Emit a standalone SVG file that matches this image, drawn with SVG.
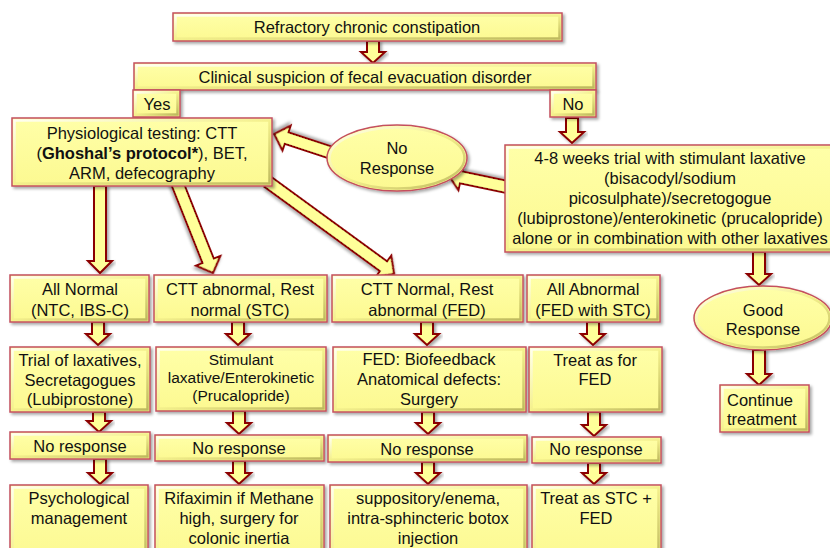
<svg xmlns="http://www.w3.org/2000/svg" width="830" height="548" viewBox="0 0 830 548">
<defs>
<filter id="sh" x="-10%" y="-10%" width="125%" height="140%"><feDropShadow dx="2" dy="2" stdDeviation="1.5" flood-color="#000" flood-opacity="0.35"/></filter>
<linearGradient id="bv" x1="0" y1="0" x2="1" y2="1"><stop offset="0" stop-color="#FFFFF0"/><stop offset="0.5" stop-color="#F4F08C"/><stop offset="1" stop-color="#BEB95E"/></linearGradient>
<linearGradient id="fl" x1="0" y1="0" x2="0" y2="1"><stop offset="0" stop-color="#FFFFA8"/><stop offset="1" stop-color="#FCF991"/></linearGradient>
</defs>
<style>
.box{fill:url(#fl);stroke:#C4505E;stroke-width:1.5;filter:url(#sh)}
.bev{fill:none;stroke:url(#bv);stroke-width:2.5}
.arr{fill:#FFFF99;stroke:#8B0000;stroke-width:2;stroke-linejoin:miter;filter:url(#sh)}
text{font-family:"Liberation Sans",Arial,sans-serif;font-size:16.5px;fill:#111;text-anchor:middle}
.sm{font-size:15.5px}
.lt{text-anchor:start}
.b{font-weight:bold}
</style>
<g id="connectors">
<path class="arr" d="M367,41 L379,41 L379,52 L385,52 L373,63 L361,52 L367,52 Z"/>
<path class="arr" d="M566,118 L578,118 L578,132 L584,132 L572,143 L560,132 L566,132 Z"/>
<path class="arr" d="M94,186 L106,186 L106,261 L112,261 L100,273 L88,261 L94,261 Z"/>
<path class="arr" transform="translate(176,180) rotate(68.3)" d="M0,-6 L87,-6 L87,-13 L100,0 L87,13 L87,6 L0,6 Z"/>
<path class="arr" transform="translate(268,182) rotate(36.1)" d="M0,-6 L143,-6 L143,-13 L156,0 L143,13 L143,6 L0,6 Z"/>
<path class="arr" transform="translate(512,188) rotate(191.8)" d="M0,-6 L52,-6 L52,-13 L65,0 L52,13 L52,6 L0,6 Z"/>
<path class="arr" transform="translate(335,154) rotate(198.2)" d="M0,-6 L51,-6 L51,-13 L64,0 L51,13 L51,6 L0,6 Z"/>
<path class="arr" d="M753,252 L765,252 L765,274 L771,274 L759,285 L747,274 L753,274 Z"/>
<path class="arr" d="M753,350 L765,350 L765,374 L771,374 L759,385 L747,374 L753,374 Z"/>
<path class="arr" d="M92,322 L104,322 L104,334 L110,334 L98,345 L86,334 L92,334 Z"/>
<path class="arr" d="M232,322 L244,322 L244,334 L250,334 L238,345 L226,334 L232,334 Z"/>
<path class="arr" d="M421,322 L433,322 L433,334 L439,334 L427,345 L415,334 L421,334 Z"/>
<path class="arr" d="M587,322 L599,322 L599,334 L605,334 L593,345 L581,334 L587,334 Z"/>
<path class="arr" d="M93,412 L105,412 L105,421 L111,421 L99,432 L87,421 L93,421 Z"/>
<path class="arr" d="M233,411 L245,411 L245,423 L251,423 L239,434 L227,423 L233,423 Z"/>
<path class="arr" d="M422,412 L434,412 L434,423 L440,423 L428,434 L416,423 L422,423 Z"/>
<path class="arr" d="M588,412 L600,412 L600,425 L606,425 L594,436 L582,425 L588,425 Z"/>
<path class="arr" d="M94,459 L106,459 L106,473 L112,473 L100,484 L88,473 L94,473 Z"/>
<path class="arr" d="M233,461 L245,461 L245,473 L251,473 L239,484 L227,473 L233,473 Z"/>
<path class="arr" d="M422,462 L434,462 L434,473 L440,473 L428,484 L416,473 L422,473 Z"/>
<path class="arr" d="M588,463 L600,463 L600,473 L606,473 L594,484 L582,473 L588,473 Z"/>
</g>
<g id="n-start"><rect class="box" x="173" y="13" width="389" height="28"/><rect class="bev" x="175.5" y="15.5" width="384" height="23"/><text x="367" y="33">Refractory chronic constipation</text></g>
<g id="n-suspicion"><rect class="box" x="134" y="63" width="462" height="27"/><rect class="bev" x="136.5" y="65.5" width="457" height="22"/><text x="365" y="83">Clinical suspicion of fecal evacuation disorder</text></g>
<g id="n-yes"><rect class="box" x="133" y="90" width="47" height="27"/><rect class="bev" x="135.5" y="92.5" width="42" height="22"/><text x="157" y="110">Yes</text></g>
<g id="n-no"><rect class="box" x="550" y="90" width="46" height="27"/><rect class="bev" x="552.5" y="92.5" width="41" height="22"/><text x="573" y="110">No</text></g>
<g id="n-phys"><rect class="box" x="12" y="118" width="260" height="68"/><rect class="bev" x="14.5" y="120.5" width="255" height="63"/>
<text x="142" y="139">Physiological testing: CTT</text>
<text x="142" y="159">(<tspan class="b">Ghoshal’s protocol*</tspan>), BET,</text>
<text x="142" y="179">ARM, defecography</text></g>
<g id="n-noresp"><ellipse class="box" cx="397" cy="158" rx="70" ry="33"/><ellipse class="bev" cx="397" cy="158" rx="67.5" ry="30.5"/><text x="397" y="154">No</text><text x="397" y="174">Response</text></g>
<g id="n-trial"><rect class="box" x="505" y="145" width="330" height="107"/><rect class="bev" x="507.5" y="147.5" width="325" height="102"/>
<text x="670" y="164">4-8 weeks trial with stimulant laxative</text>
<text x="670" y="184">(bisacodyl/sodium</text>
<text x="670" y="204">picosulphate)/secretogogue</text>
<text x="670" y="224">(lubiprostone)/enterokinetic (prucalopride)</text>
<text x="670" y="244">alone or in combination with other laxatives</text></g>
<g id="n-good"><ellipse class="box" cx="763" cy="318" rx="69" ry="32"/><ellipse class="bev" cx="763" cy="318" rx="66.5" ry="29.5"/><text x="763" y="316">Good</text><text x="763" y="335">Response</text></g>
<g id="n-continue"><rect class="box" x="720" y="385" width="89" height="47"/><rect class="bev" x="722.5" y="387.5" width="84" height="42"/><text class="lt" x="727" y="406">Continue</text><text class="lt" x="727" y="425">treatment</text></g>
<g id="n-allnormal"><rect class="box" x="10" y="275" width="139" height="47"/><rect class="bev" x="12.5" y="277.5" width="134" height="42"/><text x="80" y="295">All Normal</text><text x="80" y="316">(NTC, IBS-C)</text></g>
<g id="n-stc"><rect class="box" x="154" y="275" width="173" height="47"/><rect class="bev" x="156.5" y="277.5" width="168" height="42"/><text x="240" y="295">CTT abnormal, Rest</text><text x="240" y="316">normal (STC)</text></g>
<g id="n-fed"><rect class="box" x="332" y="275" width="191" height="47"/><rect class="bev" x="334.5" y="277.5" width="186" height="42"/><text x="427" y="295">CTT Normal, Rest</text><text x="427" y="316">abnormal (FED)</text></g>
<g id="n-allabn"><rect class="box" x="527" y="275" width="133" height="47"/><rect class="bev" x="529.5" y="277.5" width="128" height="42"/><text x="593" y="295">All Abnormal</text><text x="593" y="316">(FED with STC)</text></g>
<g id="n-t-a"><rect class="box" x="10" y="347" width="140" height="65"/><rect class="bev" x="12.5" y="349.5" width="135" height="60"/><text x="80" y="366">Trial of laxatives,</text><text x="80" y="386">Secretagogues</text><text x="80" y="405">(Lubiprostone)</text></g>
<g id="n-t-b"><rect class="box" x="156" y="347" width="170" height="64"/><rect class="bev" x="158.5" y="349.5" width="165" height="59"/><text class="sm" x="241" y="365">Stimulant</text><text class="sm" x="241" y="383">laxative/Enterokinetic</text><text class="sm" x="241" y="401">(Prucalopride)</text></g>
<g id="n-t-c"><rect class="box" x="333" y="347" width="193" height="65"/><rect class="bev" x="335.5" y="349.5" width="188" height="60"/><text x="429" y="365">FED: Biofeedback</text><text x="429" y="385">Anatomical defects:</text><text x="429" y="405">Surgery</text></g>
<g id="n-t-d"><rect class="box" x="529" y="347" width="133" height="65"/><rect class="bev" x="531.5" y="349.5" width="128" height="60"/><text x="595" y="366">Treat as for</text><text x="595" y="385">FED</text></g>
<g id="n-nr-a"><rect class="box" x="10" y="432" width="140" height="27"/><rect class="bev" x="12.5" y="434.5" width="135" height="22"/><text x="80" y="452">No response</text></g>
<g id="n-nr-b"><rect class="box" x="155" y="435" width="169" height="26"/><rect class="bev" x="157.5" y="437.5" width="164" height="21"/><text x="239" y="454">No response</text></g>
<g id="n-nr-c"><rect class="box" x="328" y="435" width="199" height="27"/><rect class="bev" x="330.5" y="437.5" width="194" height="22"/><text x="427" y="455">No response</text></g>
<g id="n-nr-d"><rect class="box" x="532" y="437" width="129" height="26"/><rect class="bev" x="534.5" y="439.5" width="124" height="21"/><text x="596" y="455">No response</text></g>
<g id="n-f-a"><rect class="box" x="10" y="485" width="138" height="75"/><rect class="bev" x="12.5" y="487.5" width="133" height="70"/><text x="79" y="504">Psychological</text><text x="79" y="524">management</text></g>
<g id="n-f-b"><rect class="box" x="155" y="485" width="169" height="75"/><rect class="bev" x="157.5" y="487.5" width="164" height="70"/><text x="239" y="504">Rifaximin if Methane</text><text x="239" y="524">high, surgery for</text><text x="239" y="544">colonic inertia</text></g>
<g id="n-f-c"><rect class="box" x="330" y="485" width="197" height="75"/><rect class="bev" x="332.5" y="487.5" width="192" height="70"/><text x="428" y="504">suppository/enema,</text><text x="428" y="524">intra-sphincteric botox</text><text x="428" y="544">injection</text></g>
<g id="n-f-d"><rect class="box" x="532" y="485" width="129" height="75"/><rect class="bev" x="534.5" y="487.5" width="124" height="70"/><text x="596" y="504">Treat as STC +</text><text x="596" y="524">FED</text></g>
</svg>
